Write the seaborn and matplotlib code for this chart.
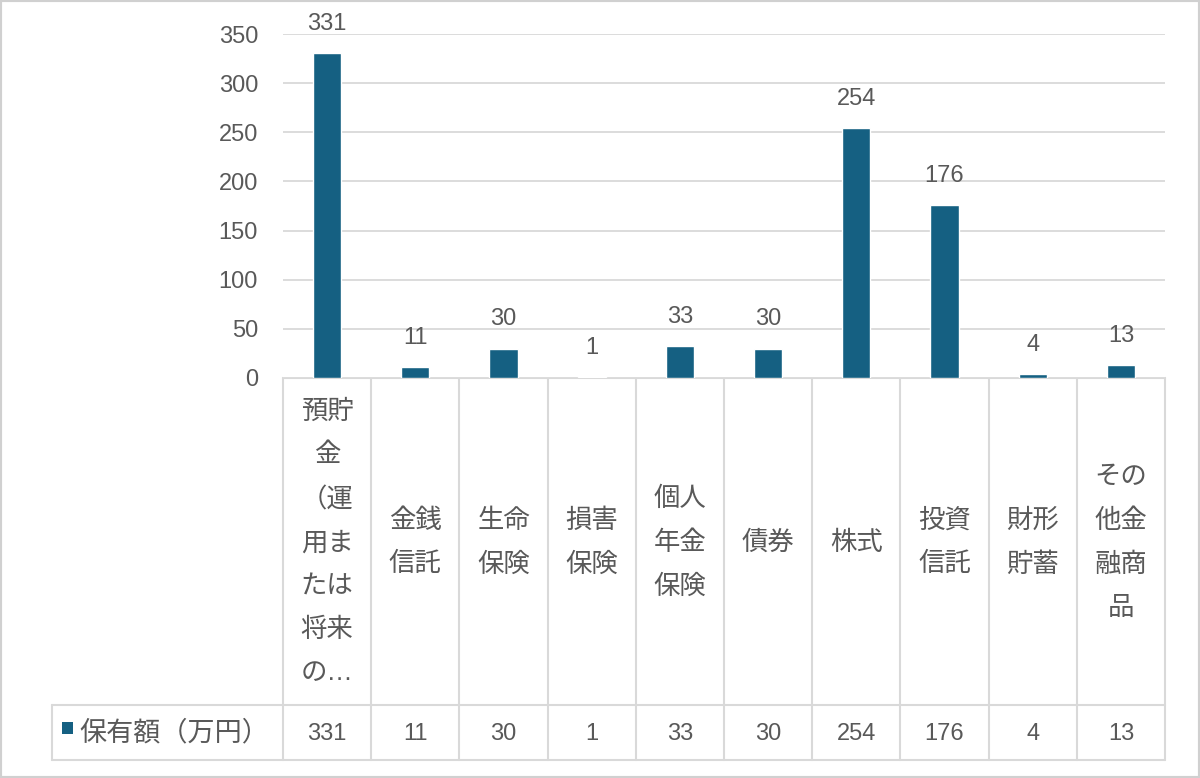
import matplotlib
matplotlib.use("Agg")
import matplotlib.pyplot as plt
import seaborn as sns
from matplotlib.patches import Rectangle

# データ
categories = ["預貯金（運用または将来の…", "金銭信託", "生命保険", "損害保険", "個人年金保険",
              "債券", "株式", "投資信託", "財形貯蓄", "その他金融商品"]
tick_labels = ["預貯\n金\n（運\n用ま\nたは\n将来\nの…", "金銭\n信託", "生命\n保険", "損害\n保険",
               "個人\n年金\n保険", "債券", "株式", "投資\n信託", "財形\n貯蓄", "その\n他金\n融商\n品"]
values = [331, 11, 30, 1, 33, 30, 254, 176, 4, 13]
series_name = "保有額（万円）"
y_ticks = [0, 50, 100, 150, 200, 250, 300, 350]

BAR = "#156082"
TXT = "#595959"
GRID = "#d9d9d9"

sns.set_style("white")
plt.rcParams["font.family"] = ["Liberation Sans", "Noto Sans CJK JP"]

# レイアウト (ピクセル)
W, H = 1200, 778
left, right, top, zero = 283, 1165, 34, 378
row, bottom, leg_left = 705, 760, 52

fig = plt.figure(figsize=(W / 100, H / 100), dpi=100)

ax = fig.add_axes([left / W, 1 - zero / H, (right - left) / W, (zero - top) / H])
sns.barplot(x=categories, y=values, color=BAR, width=0.32, saturation=1, ax=ax)
ax.set_xlim(-0.5, len(categories) - 0.5)
ax.set_ylim(0, 350)
ax.set_yticks(y_ticks)
ax.set_xticks([])
ax.set_xlabel("")
ax.set_ylabel("")
ax.yaxis.grid(True, color=GRID, linewidth=1.3)
ax.set_axisbelow(True)
for s in ax.spines.values():
    s.set_visible(False)
ax.tick_params(axis="y", length=0, pad=18, labelsize=17, labelcolor=TXT)
ax.bar_label(ax.containers[0], labels=[str(v) for v in values], padding=13,
             fontsize=17, color=TXT)

# データテーブル
tax = fig.add_axes([0, 0, 1, 1], zorder=-1)
tax.set_xlim(0, W)
tax.set_ylim(H, 0)
tax.axis("off")

n = len(categories)
col_w = (right - left) / n
lc = dict(color=GRID, linewidth=1.5)
tax.plot([left, right], [zero, zero], **lc)
tax.plot([leg_left, right], [row, row], **lc)
tax.plot([leg_left, right], [bottom, bottom], **lc)
tax.plot([leg_left, leg_left], [row, bottom], **lc)
for i in range(n + 1):
    x = left + i * col_w
    tax.plot([x, x], [zero, bottom], **lc)

for i, (lab, v) in enumerate(zip(tick_labels, values)):
    cx = left + (i + 0.5) * col_w
    tax.text(cx, (zero + row) / 2 + 1, lab, ha="center", va="center",
             fontsize=19, color=TXT, linespacing=2.0)
    tax.text(cx, (row + bottom) / 2 + 1, str(v), ha="center", va="center",
             fontsize=17, color=TXT)

tax.add_patch(Rectangle((62, 722), 11, 12, facecolor=BAR, edgecolor="none"))
tax.text(79, (row + bottom) / 2 + 1, series_name, ha="left", va="center",
         fontsize=19.5, color=TXT)

# 外枠
fig.patches.append(Rectangle((0, 0), 1, 1, transform=fig.transFigure, fill=False,
                             edgecolor="#d0d0d0", linewidth=3))

fig.savefig("out.png", dpi=100)
